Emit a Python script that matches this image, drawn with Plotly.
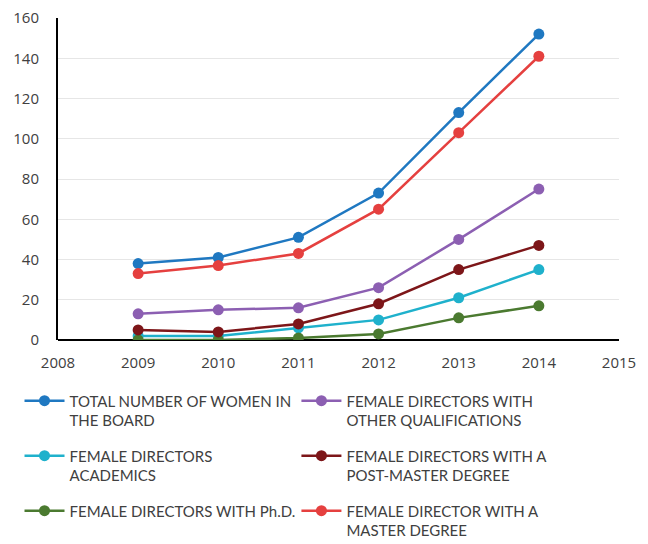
import plotly.graph_objects as go

years = [2009, 2010, 2011, 2012, 2013, 2014]
total_women = [38, 41, 51, 73, 113, 152]
other_qual = [13, 15, 16, 26, 50, 75]
academics = [2, 2, 6, 10, 21, 35]
post_master = [5, 4, 8, 18, 35, 47]
phd = [0, 0, 1, 3, 11, 17]
master = [33, 37, 43, 65, 103, 141]

# (legend text, values, colour, legend column)
series = [
    ("TOTAL NUMBER OF WOMEN IN<br>THE BOARD", total_women, "#1f78c1", "legend"),
    ("FEMALE DIRECTORS<br>ACADEMICS", academics, "#1fb1cc", "legend"),
    ("FEMALE DIRECTORS WITH Ph.D.", phd, "#4b7a30", "legend"),
    ("FEMALE DIRECTORS WITH<br>OTHER QUALIFICATIONS", other_qual, "#8c5fb2", "legend2"),
    ("FEMALE DIRECTORS WITH A<br>POST-MASTER DEGREE", post_master, "#7d1619", "legend2"),
    ("FEMALE DIRECTOR WITH A<br>MASTER DEGREE", master, "#e5403f", "legend2"),
]

fig = go.Figure()
for i, (name, vals, col, leg) in enumerate(series):
    fig.add_trace(go.Scatter(
        x=years, y=vals, name=name, mode="lines+markers",
        line=dict(color=col, width=2.5),
        marker=dict(color=col, size=11),
        legend=leg, legendgroup=f"g{i}",
    ))

tick_font = dict(family="Open Sans, sans-serif", size=15, color="#404040")
leg_font = dict(family="Lato, sans-serif", size=15, color="#404040")

common_leg = dict(orientation="v", xanchor="left", yanchor="top", y=-0.138,
                  font=leg_font, itemwidth=40, tracegroupgap=13, valign="top",
                  bgcolor="rgba(0,0,0,0)")

fig.update_layout(
    width=648, height=544,
    margin=dict(l=50, r=37, t=10, b=212, autoexpand=False),
    plot_bgcolor="white", paper_bgcolor="white",
    font=tick_font,
    showlegend=True,
    legend=dict(x=-0.0686, **common_leg),
    legend2=dict(x=0.425, **common_leg),
)
fig.update_xaxes(
    range=[2008, 2015], tickvals=[2008, 2009, 2010, 2011, 2012, 2013, 2014, 2015],
    showgrid=False, showline=False, zeroline=False, ticks="",
    tickfont=tick_font, ticklabelstandoff=12, ticklabeloverflow="allow",
)
fig.update_yaxes(
    range=[0, 160], dtick=20, showgrid=True, gridcolor="#e6e6e6", gridwidth=1,
    showline=True, linecolor="black", linewidth=2, zeroline=True,
    zerolinecolor="black", zerolinewidth=2, ticks="",
    tickfont=tick_font, ticklabelstandoff=14, ticklabeloverflow="allow",
)

fig.write_html("out.html")
